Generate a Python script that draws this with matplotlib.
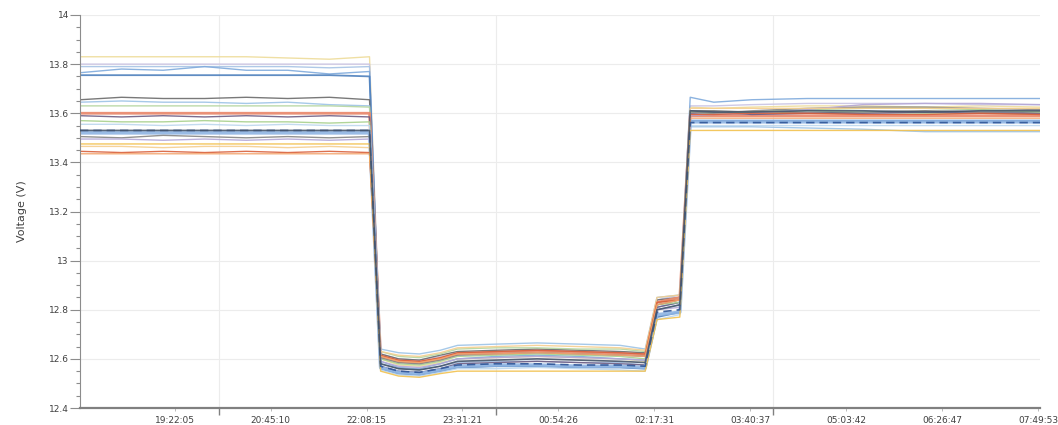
import matplotlib
matplotlib.use("Agg")
import matplotlib.pyplot as plt
from matplotlib.ticker import FixedLocator, MultipleLocator, FormatStrFormatter, NullFormatter

# Sample times, in hours after 18:00
times_h = [0.0, 0.6, 1.2, 1.8, 2.4, 3.0, 3.6, 4.18,
           4.34, 4.6, 4.9, 5.2, 5.45,
           6.0, 6.6, 7.2, 7.8, 8.16,
           8.33, 8.66,
           8.81, 9.15, 9.7, 10.5, 11.3, 12.2, 13.0, 13.86]

# Labelled time ticks (hours after 18:00) and their text
label_ticks_h = [1.368, 2.753, 4.138, 5.522, 6.907, 8.292, 9.677, 11.062, 12.446, 13.831]
label_texts = ["19:22:05", "20:45:10", "22:08:15", "23:31:21", "00:54:26",
               "02:17:31", "03:40:37", "05:03:42", "06:26:47", "07:49:53"]
# Four-hourly gridlines (20:00, 00:00, 04:00)
grid_ticks_h = [2.0, 6.0, 10.0]

# Cell voltages (V)
cell01 = [13.83, 13.83, 13.83, 13.83, 13.83, 13.825, 13.82, 13.83,
          12.60, 12.575, 12.57, 12.585, 12.60,
          12.605, 12.61, 12.605, 12.60, 12.59,
          12.82, 12.84,
          13.625, 13.62, 13.625, 13.63, 13.63, 13.625, 13.63, 13.625]
cell02 = [13.80, 13.80, 13.80, 13.80, 13.80, 13.80, 13.80, 13.80,
          12.62, 12.60, 12.595, 12.61, 12.625,
          12.63, 12.635, 12.63, 12.625, 12.62,
          12.84, 12.86,
          13.63, 13.63, 13.635, 13.64, 13.64, 13.64, 13.635, 13.635]
cell03 = [13.79, 13.79, 13.79, 13.79, 13.79, 13.79, 13.785, 13.79,
          12.58, 12.56, 12.555, 12.57, 12.585,
          12.59, 12.59, 12.585, 12.585, 12.575,
          12.80, 12.82,
          13.60, 13.60, 13.605, 13.60, 13.60, 13.60, 13.60, 13.60]
cell04 = [13.765, 13.78, 13.775, 13.79, 13.775, 13.775, 13.76, 13.77,
          12.59, 12.565, 12.56, 12.58, 12.60,
          12.61, 12.615, 12.61, 12.60, 12.595,
          12.81, 12.83,
          13.665, 13.645, 13.655, 13.66, 13.66, 13.66, 13.66, 13.66]
cell05 = [13.755, 13.755, 13.755, 13.755, 13.755, 13.755, 13.755, 13.75,
          12.56, 12.54, 12.535, 12.55, 12.565,
          12.57, 12.57, 12.565, 12.565, 12.56,
          12.77, 12.79,
          13.57, 13.57, 13.57, 13.57, 13.57, 13.57, 13.57, 13.57]
cell06 = [13.655, 13.665, 13.66, 13.66, 13.665, 13.66, 13.665, 13.655,
          12.62, 12.60, 12.595, 12.615, 12.63,
          12.635, 12.64, 12.635, 12.63, 12.625,
          12.84, 12.85,
          13.61, 13.61, 13.605, 13.60, 13.605, 13.61, 13.605, 13.605]
cell07 = [13.645, 13.65, 13.645, 13.645, 13.64, 13.645, 13.635, 13.63,
          12.64, 12.625, 12.62, 12.635, 12.655,
          12.66, 12.665, 12.66, 12.655, 12.64,
          12.85, 12.86,
          13.545, 13.545, 13.545, 13.54, 13.535, 13.525, 13.525, 13.525]
cell08 = [13.63, 13.63, 13.63, 13.63, 13.63, 13.63, 13.63, 13.625,
          12.63, 12.61, 12.605, 12.62, 12.64,
          12.645, 12.645, 12.64, 12.64, 12.63,
          12.83, 12.85,
          13.59, 13.595, 13.60, 13.61, 13.605, 13.60, 13.60, 13.595]
cell09 = [13.60, 13.60, 13.60, 13.60, 13.60, 13.60, 13.60, 13.60,
          12.61, 12.59, 12.585, 12.60, 12.62,
          12.625, 12.63, 12.625, 12.62, 12.615,
          12.83, 12.85,
          13.59, 13.59, 13.59, 13.59, 13.59, 13.59, 13.59, 13.59]
cell10 = [13.59, 13.585, 13.59, 13.585, 13.59, 13.585, 13.59, 13.585,
          12.57, 12.55, 12.545, 12.56, 12.58,
          12.585, 12.59, 12.585, 12.58, 12.575,
          12.81, 12.83,
          13.60, 13.605, 13.595, 13.60, 13.60, 13.605, 13.60, 13.60]
cell11 = [13.57, 13.565, 13.565, 13.57, 13.565, 13.565, 13.56, 13.565,
          12.60, 12.58, 12.575, 12.59, 12.61,
          12.615, 12.62, 12.615, 12.61, 12.60,
          12.82, 12.83,
          13.605, 13.60, 13.605, 13.615, 13.62, 13.62, 13.615, 13.605]
cell12 = [13.555, 13.555, 13.55, 13.555, 13.55, 13.555, 13.55, 13.55,
          12.555, 12.535, 12.53, 12.545, 12.56,
          12.56, 12.565, 12.56, 12.555, 12.55,
          12.76, 12.78,
          13.55, 13.55, 13.55, 13.55, 13.55, 13.55, 13.55, 13.55]
cell13 = [13.53, 13.53, 13.53, 13.53, 13.53, 13.53, 13.53, 13.53,
          12.58, 12.56, 12.555, 12.57, 12.59,
          12.595, 12.60, 12.595, 12.59, 12.585,
          12.80, 12.82,
          13.61, 13.605, 13.605, 13.61, 13.61, 13.605, 13.61, 13.61]
cell14 = [13.52, 13.52, 13.52, 13.52, 13.52, 13.52, 13.52, 13.52,
          12.565, 12.545, 12.54, 12.555, 12.57,
          12.575, 12.575, 12.57, 12.57, 12.565,
          12.78, 12.79,
          13.565, 13.565, 13.565, 13.565, 13.565, 13.565, 13.565, 13.565]
cell15 = [13.505, 13.50, 13.51, 13.505, 13.50, 13.505, 13.50, 13.505,
          12.605, 12.585, 12.58, 12.595, 12.615,
          12.62, 12.625, 12.62, 12.615, 12.61,
          12.82, 12.84,
          13.605, 13.60, 13.61, 13.62, 13.625, 13.625, 13.62, 13.615]
cell16 = [13.495, 13.495, 13.49, 13.495, 13.49, 13.495, 13.49, 13.495,
          12.59, 12.57, 12.565, 12.58, 12.60,
          12.605, 12.61, 12.605, 12.60, 12.595,
          12.80, 12.81,
          13.59, 13.595, 13.60, 13.615, 13.635, 13.64, 13.64, 13.635]
cell17 = [13.465, 13.465, 13.46, 13.465, 13.465, 13.46, 13.465, 13.46,
          12.63, 12.615, 12.61, 12.625, 12.645,
          12.65, 12.655, 12.65, 12.645, 12.635,
          12.85, 12.86,
          13.62, 13.62, 13.62, 13.62, 13.62, 13.62, 13.62, 13.62]
cell18 = [13.445, 13.44, 13.445, 13.44, 13.445, 13.44, 13.445, 13.44,
          12.615, 12.595, 12.59, 12.605, 12.625,
          12.63, 12.635, 12.63, 12.625, 12.62,
          12.83, 12.84,
          13.595, 13.595, 13.60, 13.60, 13.595, 13.595, 13.60, 13.595]
cell19 = [13.435, 13.435, 13.435, 13.435, 13.435, 13.435, 13.435, 13.435,
          12.61, 12.59, 12.585, 12.60, 12.62,
          12.62, 12.625, 12.62, 12.615, 12.61,
          12.82, 12.84,
          13.58, 13.58, 13.58, 13.58, 13.58, 13.58, 13.58, 13.58]
cell20 = [13.475, 13.475, 13.475, 13.475, 13.475, 13.475, 13.475, 13.475,
          12.55, 12.53, 12.525, 12.54, 12.55,
          12.55, 12.55, 12.55, 12.55, 12.55,
          12.76, 12.77,
          13.53, 13.53, 13.53, 13.53, 13.53, 13.53, 13.53, 13.53]
cell21 = [13.53, 13.53, 13.53, 13.53, 13.53, 13.53, 13.53, 13.53,
          12.57, 12.55, 12.545, 12.56, 12.575,
          12.58, 12.58, 12.575, 12.575, 12.57,
          12.79, 12.80,
          13.562, 13.562, 13.562, 13.562, 13.562, 13.562, 13.562, 13.562]

cells = [cell01, cell02, cell03, cell04, cell05, cell06, cell07, cell08, cell09, cell10,
         cell11, cell12, cell13, cell14, cell15, cell16, cell17, cell18, cell19, cell20, cell21]

# Line styling per cell
line_colors = ["#eedc9a", "#c9c3e3", "#a7c3e5", "#7faadc", "#4f81bd", "#6b6b6b", "#9dc3e6",
               "#b5d6a0", "#e9866a", "#6e5c82", "#a9d18e", "#bdd7ee", "#44546a", "#8eb4e3",
               "#858585", "#b4a7d6", "#f5cf8f", "#d9603b", "#f4a46c", "#f2c14e", "#2f5597"]
line_widths = [1.0, 1.0, 1.0, 1.0, 1.3, 1.0, 1.0, 1.0, 2.0, 1.0, 1.0, 1.0, 1.2, 2.5,
               1.0, 1.0, 1.0, 1.0, 1.0, 1.0, 1.2]
line_styles = ["-"] * 20 + [(0, (5, 3))]
line_z = [2] * 12 + [4] + [2] * 7 + [3]

fig = plt.figure(figsize=(10.58, 4.25), dpi=100)
ax = fig.add_axes([80 / 1058, 17 / 425, 960 / 1058, 393 / 425])

for vals, c, lw, ls, z in zip(cells, line_colors, line_widths, line_styles, line_z):
    ax.plot(times_h, vals, color=c, lw=lw, ls=ls, alpha=0.9, zorder=z,
            solid_joinstyle="round")

ax.set_xlim(0, 13.86)
ax.set_ylim(12.4, 14.0)

# Y axis
ax.yaxis.set_major_locator(MultipleLocator(0.2))
ax.yaxis.set_minor_locator(MultipleLocator(0.05))
ax.yaxis.set_major_formatter(FormatStrFormatter("%g"))
ax.tick_params(axis="y", which="major", length=7, width=0.8, color="#8c8c8c",
               labelsize=6.5, labelcolor="#404040", pad=1)
ax.tick_params(axis="y", which="minor", length=3, width=0.8, color="#8c8c8c")

# X axis: gridline ticks unlabelled, time labels on minor ticks
ax.xaxis.set_major_locator(FixedLocator(grid_ticks_h))
ax.xaxis.set_major_formatter(NullFormatter())
ax.set_xticks(label_ticks_h, label_texts, minor=True)
ax.tick_params(axis="x", which="major", length=5, width=1.0, color="#808080")
ax.tick_params(axis="x", which="minor", length=2, width=0.6, color="#b0b0b0",
               labelsize=6.5, labelcolor="#404040", pad=4)

ax.grid(True, which="major", color="#ececec", lw=0.8)
ax.set_axisbelow(True)

for side in ("top", "right"):
    ax.spines[side].set_visible(False)
ax.spines["left"].set_color("#8c8c8c")
ax.spines["left"].set_linewidth(0.8)
ax.spines["bottom"].set_color("#808080")
ax.spines["bottom"].set_linewidth(1.6)

ax.set_ylabel("Voltage (V)", fontsize=8, color="#404040", labelpad=16)

fig.savefig("out.png", dpi=100, facecolor="white")
